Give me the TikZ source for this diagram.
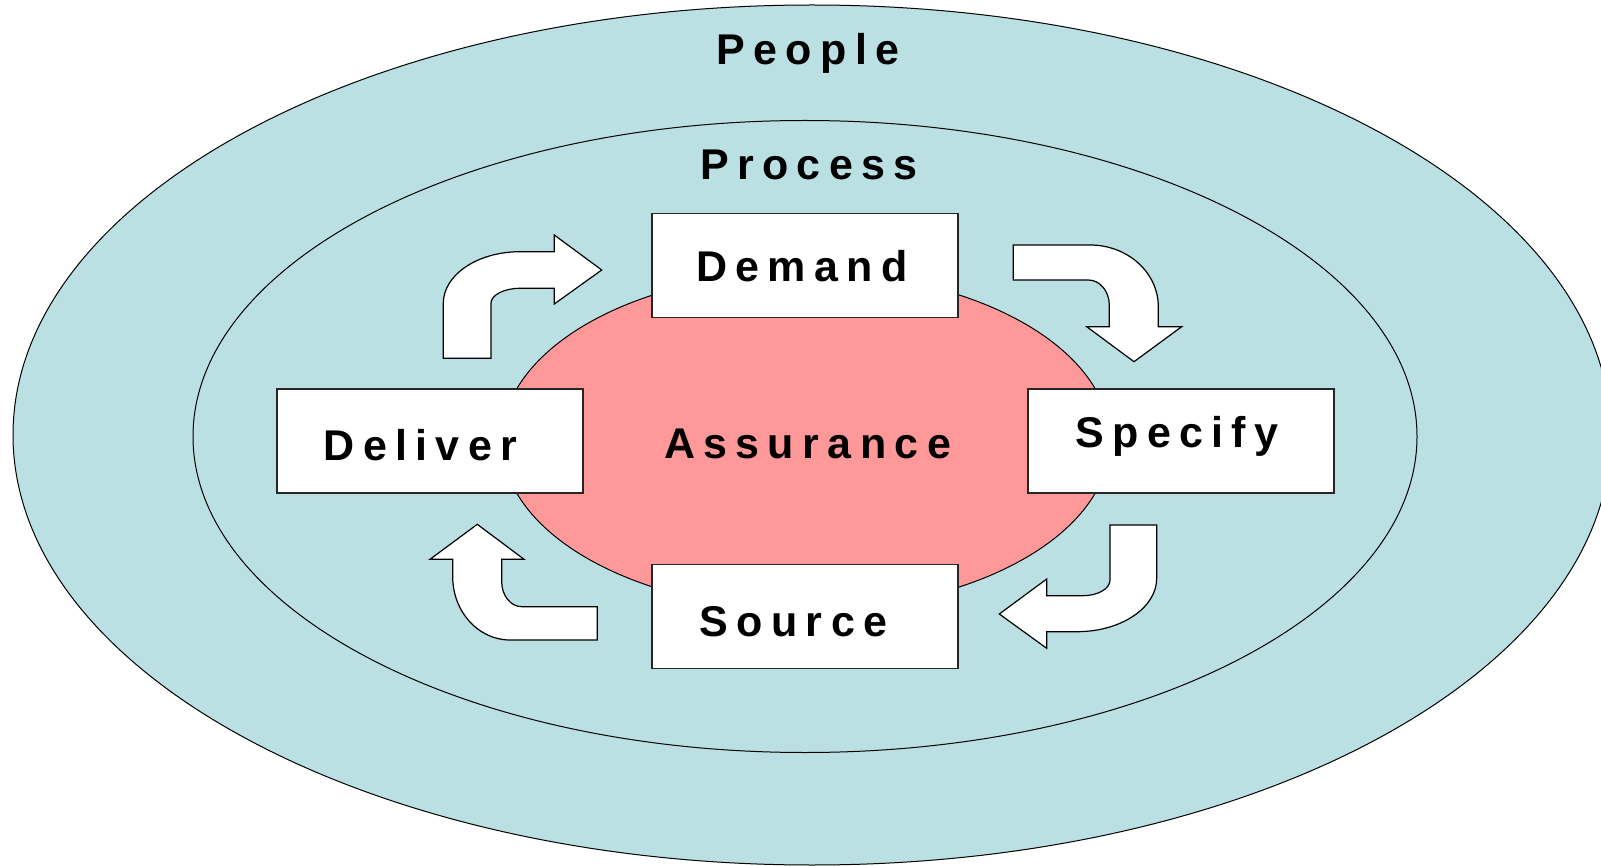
\documentclass[tikz,border=0pt]{standalone}
\usepackage{fontspec}
\setmainfont{Liberation Sans}
\newfontfamily\boxfont[LetterSpace=19.5]{Liberation Sans}
\definecolor{ringblue}{HTML}{BBE0E3}
\definecolor{corepink}{HTML}{FF9999}
\tikzset{
  ring/.style={draw=black, line width=1pt, fill=ringblue},
  core/.style={draw=black, line width=1pt, fill=corepink},
  stepbox/.style={draw=black!85, line width=1.4pt, fill=white, minimum width=306pt, minimum height=104pt, inner sep=0pt},
  boxtext/.style={anchor=base, inner sep=0pt, font=\boxfont\bfseries\fontsize{43}{50}\selectfont},
  ringtext/.style={boxtext},
  bentarrow/.style={draw=black, line width=1.2pt, fill=white, line join=miter}
}
\begin{document}
\begin{tikzpicture}[x=1pt,y=-1pt]
\clip (0,0) rectangle (1601,866);
\fill[white] (0,0) rectangle (1601,866);
% rings
\draw[ring] (812,435) ellipse [x radius=799pt, y radius=430pt];
\draw[ring] (805,436.5) ellipse [x radius=612pt, y radius=316pt];
\draw[core] (806,441) ellipse [x radius=304pt, y radius=169pt];
% bent arrows
\draw[bentarrow] (443.3,358.3) -- (443.3,303.3)
  .. controls (443.3,274.8) and (477.6,251.7) .. (520,251.7)
  -- (554.3,251.7) -- (554.3,235) -- (601.7,270) -- (554.3,304) -- (554.3,288.3)
  -- (520,288.3) .. controls (504,288.3) and (491,295) .. (491,303.3)
  -- (491,358.3) -- cycle;
\draw[bentarrow] (1013.3,245) -- (1090,245)
  .. controls (1127.7,245) and (1158.3,272.6) .. (1158.3,306.7)
  -- (1158.3,326.7) -- (1181.7,326.7) -- (1134,361.7) -- (1086.7,326.7) -- (1109.3,326.7)
  -- (1109.3,305) .. controls (1109.3,291.2) and (1099.9,280) .. (1088.3,280)
  -- (1013.3,280) -- cycle;
\draw[bentarrow] (1110,525) -- (1156.7,525) -- (1156.7,578.3)
  .. controls (1156.7,607.8) and (1121,631.7) .. (1077,631.7)
  -- (1046.7,631.7) -- (1046.7,648.3) -- (999.3,614) -- (1046.7,579) -- (1046.7,595.7)
  -- (1083,595.7) .. controls (1097.9,595.7) and (1110,588.7) .. (1110,580)
  -- cycle;
\draw[bentarrow] (597.3,606.7) -- (597.3,640) -- (510,640)
  .. controls (478.4,640) and (452.7,611.7) .. (452.7,576.7)
  -- (452.7,559.3) -- (430,559.3) -- (477.3,524.3) -- (524,559.3) -- (501.7,559.3)
  -- (501.7,581.7) .. controls (501.7,595.5) and (510.7,606.7) .. (521.7,606.7)
  -- cycle;
% boxes
\node[stepbox] (demand)  at (805,265.5) {};
\node[stepbox] (deliver) at (430,441) {};
\node[stepbox] (specify) at (1181,441) {};
\node[stepbox] (source)  at (805,616.5) {};
% texts
\node[ringtext] (people)  at (808,65) {People};
\node[ringtext] (process) at (809,180) {Process};
\node[boxtext] (demandlabel)  at (802,282) {Demand};
\node[boxtext] (deliverlabel) at (420.5,460) {Deliver};
\node[boxtext] (specifylabel) at (1177,447) {Specify};
\node[boxtext] (sourcelabel)  at (793.5,636) {Source};
\node[boxtext] (assurance)    at (807.5,458) {Assurance};
\end{tikzpicture}
\end{document}
